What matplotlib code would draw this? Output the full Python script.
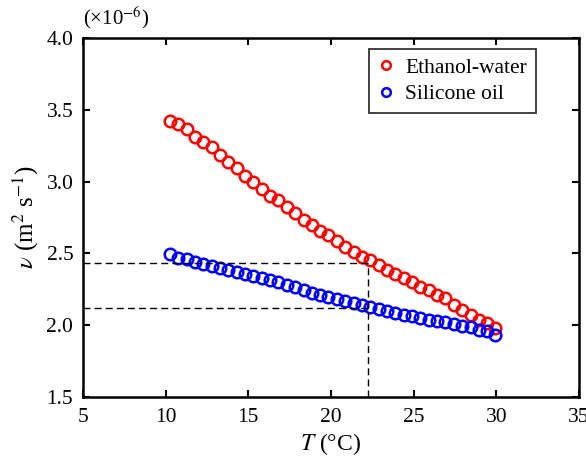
import matplotlib
matplotlib.use("Agg")
import matplotlib.pyplot as plt

plt.rcParams['font.family'] = ['Liberation Serif', 'DejaVu Serif']
plt.rcParams['mathtext.fontset'] = 'stix'

T = [10.26, 10.76, 11.27, 11.77, 12.28, 12.78, 13.29, 13.79, 14.30, 14.80,
     15.31, 15.81, 16.32, 16.82, 17.33, 17.83, 18.34, 18.84, 19.35, 19.85,
     20.36, 20.86, 21.37, 21.87, 22.38, 22.88, 23.39, 23.89, 24.40, 24.90,
     25.41, 25.91, 26.42, 26.92, 27.43, 27.93, 28.44, 28.94, 29.45, 29.95]

ethanol_water = [3.424, 3.399, 3.364, 3.313, 3.278, 3.243, 3.183, 3.136, 3.093, 3.041,
                 2.995, 2.951, 2.902, 2.872, 2.821, 2.784, 2.733, 2.700, 2.658, 2.626,
                 2.588, 2.547, 2.512, 2.477, 2.455, 2.419, 2.384, 2.357, 2.327, 2.304,
                 2.268, 2.245, 2.210, 2.187, 2.141, 2.106, 2.071, 2.036, 2.013, 1.978]

silicone_oil = [2.494, 2.466, 2.459, 2.443, 2.426, 2.414, 2.400, 2.384, 2.368, 2.356,
                2.345, 2.331, 2.315, 2.300, 2.280, 2.264, 2.245, 2.226, 2.210, 2.194,
                2.180, 2.168, 2.157, 2.141, 2.125, 2.112, 2.100, 2.088, 2.075, 2.063,
                2.052, 2.040, 2.030, 2.020, 2.010, 1.998, 1.985, 1.970, 1.958, 1.935]

x_ticks = [5, 10, 15, 20, 25, 30, 35]
x_ticklabels = ['5', '10', '15', '20', '25', '30', '35']
y_ticks = [1.5, 2.0, 2.5, 3.0, 3.5, 4.0]
y_ticklabels = ['1.5', '2.0', '2.5', '3.0', '3.5', '4.0']

T_ref = 22.26
nu_ref_ethanol = 2.431
nu_ref_silicone = 2.122

fig = plt.figure(figsize=(5.86, 4.57), dpi=100)
ax = fig.add_axes([0.1416, 0.131, 0.8464, 0.786])

ax.plot(T, ethanol_water, 'o', ms=8.3, mfc='none', mec='#ff0000', mew=1.8, label='Ethanol-water')
ax.plot(T, silicone_oil, 'o', ms=8.3, mfc='none', mec='#0000ff', mew=1.8, label='Silicone oil')

dash = (0, (5, 3))
ax.plot([5, T_ref], [nu_ref_ethanol, nu_ref_ethanol], color='black', lw=1.0, ls=dash)
ax.plot([5, T_ref], [nu_ref_silicone, nu_ref_silicone], color='black', lw=1.0, ls=dash)
ax.plot([T_ref, T_ref], [1.5, nu_ref_ethanol], color='black', lw=1.0, ls=dash)

ax.set_xlim(5, 35)
ax.set_ylim(1.5, 4.0)
ax.set_xticks(x_ticks)
ax.set_xticklabels(x_ticklabels)
ax.set_yticks(y_ticks)
ax.set_yticklabels(y_ticklabels)
ax.tick_params(direction='in', length=5, width=1.5, top=True, right=True,
               labelsize=15.5)
ax.tick_params(axis='y', pad=7)
ax.tick_params(axis='x', pad=8)
for s in ax.spines.values():
    s.set_linewidth(1.8)

ax.set_xlabel(r'$T$ (°C)', fontsize=17, labelpad=3)
ax.set_ylabel(r'$\nu$ (m$^2$ s$^{-1}$)', fontsize=18, labelpad=4)
ax.text(0.0, 1.018, r'(×10$^{-6}$)', transform=ax.transAxes, fontsize=15,
        ha='left', va='bottom')

leg = ax.legend(loc='upper right', bbox_to_anchor=(0.913, 0.969), borderaxespad=0,
                fontsize=15.5,
                frameon=True, fancybox=False, edgecolor='#333333', framealpha=1,
                handlelength=0.8, handletextpad=0.5, borderpad=0.4,
                labelspacing=0.3, markerscale=0.75)
leg.get_frame().set_linewidth(1.3)

fig.savefig('out.png', dpi=100)
